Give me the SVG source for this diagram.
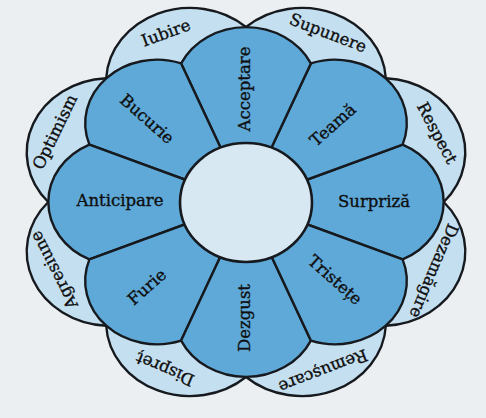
<svg xmlns="http://www.w3.org/2000/svg" width="486" height="418" viewBox="0 0 486 418">
<defs>
<style>
.light path{fill:#c4dff0;stroke:#161a1e;stroke-width:2.4;stroke-linejoin:round}
.dark path{fill:#5fa9d8;stroke:#161a1e;stroke-width:2.4;stroke-linejoin:round}
.core ellipse{fill:#d8e8f3;stroke:#161a1e;stroke-width:2.6}
text{font-family:"DejaVu Serif","Liberation Serif",serif;fill:#0e0e0e;stroke:#0e0e0e;stroke-width:0.35;text-anchor:middle;dominant-baseline:central}
.dark text{font-size:16.5px}
.light text{font-size:16.5px}
</style>
</defs>
<rect width="486" height="418" fill="#eceff1"/>

<g id="light-petals">
<g id="respect" class="light"><path vector-effect="non-scaling-stroke" transform="translate(246,202) scale(1.13,1)" d="M0,0 L175,0 A74.2,74.2 0 0 0 123.74,-123.74 Z"/></g>
<g id="supunere" class="light"><path vector-effect="non-scaling-stroke" transform="translate(246,202) scale(1.13,1)" d="M0,0 L123.74,-123.74 A74.2,74.2 0 0 0 0,-175 Z"/></g>
<g id="iubire" class="light"><path vector-effect="non-scaling-stroke" transform="translate(246,202) scale(1.13,1)" d="M0,0 L0,-175 A74.2,74.2 0 0 0 -123.74,-123.74 Z"/></g>
<g id="optimism" class="light"><path vector-effect="non-scaling-stroke" transform="translate(246,202) scale(1.13,1)" d="M0,0 L-123.74,-123.74 A74.2,74.2 0 0 0 -175,0 Z"/></g>
<g id="agresiune" class="light"><path vector-effect="non-scaling-stroke" transform="translate(246,202) scale(1.13,1)" d="M0,0 L-175,0 A74.2,74.2 0 0 0 -123.74,123.74 Z"/></g>
<g id="dispret" class="light"><path vector-effect="non-scaling-stroke" transform="translate(246,202) scale(1.13,1)" d="M0,0 L-123.74,123.74 A74.2,74.2 0 0 0 0,175 Z"/></g>
<g id="remuscare" class="light"><path vector-effect="non-scaling-stroke" transform="translate(246,202) scale(1.13,1)" d="M0,0 L0,175 A74.2,74.2 0 0 0 123.74,123.74 Z"/></g>
<g id="dezamagire" class="light"><path vector-effect="non-scaling-stroke" transform="translate(246,202) scale(1.13,1)" d="M0,0 L123.74,123.74 A74.2,74.2 0 0 0 175,0 Z"/></g>
</g>

<g id="dark-petals">
<g id="surpriza" class="dark"><path vector-effect="non-scaling-stroke" transform="translate(246,202) scale(1.13,1)" d="M0,0 L138.58,57.4 A63.5,63.5 0 0 0 138.58,-57.4 Z"/><text x="374" y="201">Surpriză</text></g>
<g id="teama" class="dark"><path vector-effect="non-scaling-stroke" transform="translate(246,202) scale(1.13,1)" d="M0,0 L138.58,-57.4 A63.5,63.5 0 0 0 57.4,-138.58 Z"/><text x="333" y="125" transform="rotate(-41.5 333 125)">Teamă</text></g>
<g id="acceptare" class="dark"><path vector-effect="non-scaling-stroke" transform="translate(246,202) scale(1.13,1)" d="M0,0 L57.4,-138.58 A63.5,63.5 0 0 0 -57.4,-138.58 Z"/><text x="244" y="89" transform="rotate(-90 244 89)">Acceptare</text></g>
<g id="bucurie" class="dark"><path vector-effect="non-scaling-stroke" transform="translate(246,202) scale(1.13,1)" d="M0,0 L-57.4,-138.58 A63.5,63.5 0 0 0 -138.58,-57.4 Z"/><text x="147" y="119" transform="rotate(41.5 147 119)">Bucurie</text></g>
<g id="anticipare" class="dark"><path vector-effect="non-scaling-stroke" transform="translate(246,202) scale(1.13,1)" d="M0,0 L-138.58,-57.4 A63.5,63.5 0 0 0 -138.58,57.4 Z"/><text x="120" y="200">Anticipare</text></g>
<g id="furie" class="dark"><path vector-effect="non-scaling-stroke" transform="translate(246,202) scale(1.13,1)" d="M0,0 L-138.58,57.4 A63.5,63.5 0 0 0 -57.4,138.58 Z"/><text x="147" y="287" transform="rotate(-41.5 147 287)">Furie</text></g>
<g id="dezgust" class="dark"><path vector-effect="non-scaling-stroke" transform="translate(246,202) scale(1.13,1)" d="M0,0 L-57.4,138.58 A63.5,63.5 0 0 0 57.4,138.58 Z"/><text x="244" y="318" transform="rotate(-90 244 318)">Dezgust</text></g>
<g id="tristete" class="dark"><path vector-effect="non-scaling-stroke" transform="translate(246,202) scale(1.13,1)" d="M0,0 L57.4,138.58 A63.5,63.5 0 0 0 138.58,57.4 Z"/><text x="335" y="280" transform="rotate(41.5 335 280)">Tristețe</text></g>
</g>

<g id="center" class="core"><ellipse cx="246" cy="202.5" rx="66" ry="59.5"/></g>

<g id="light-labels" class="light">
<text x="437" y="133" transform="rotate(62 437 133)">Respect</text>
<text x="328" y="33" transform="rotate(21 328 33)">Supunere</text>
<text x="166" y="33" transform="rotate(-20 166 33)">Iubire</text>
<text x="55" y="132" transform="rotate(-64 55 132)">Optimism</text>
<text x="54" y="270" transform="rotate(243 54 270)">Agresiune</text>
<text x="165" y="369" transform="rotate(203 165 369)">Dispreț</text>
<text x="323" y="371" transform="rotate(159 323 371)">Remușcare</text>
<text x="434" y="271" transform="rotate(113 434 271)">Dezamăgire</text>
</g>
</svg>
